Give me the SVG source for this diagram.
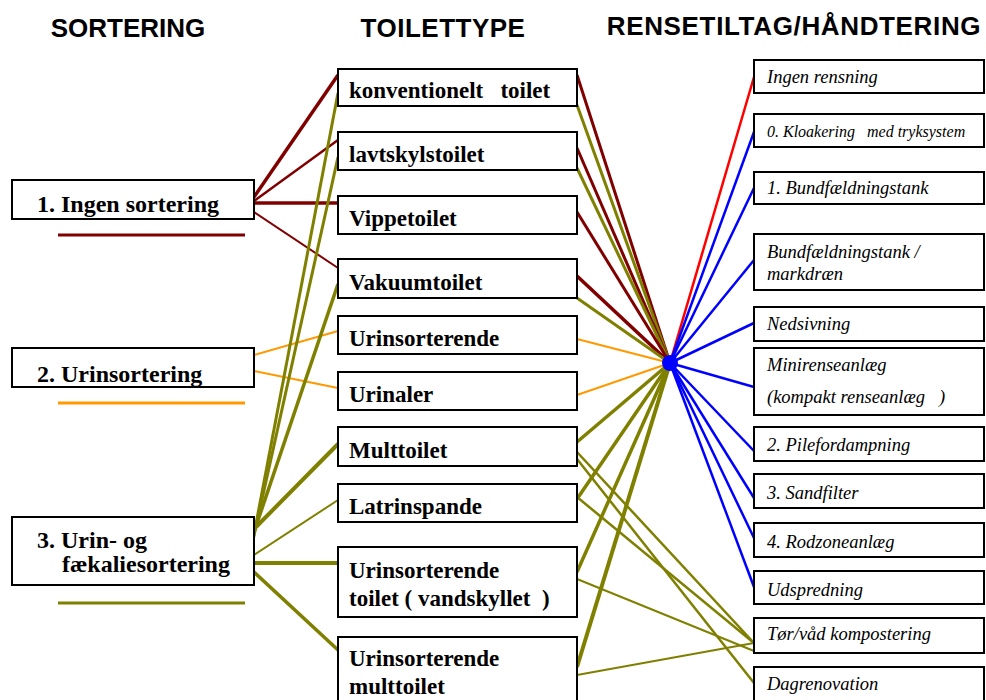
<svg xmlns="http://www.w3.org/2000/svg" width="986" height="700" viewBox="0 0 986 700">
<style>
.hdr{font-family:"Liberation Sans",Arial,sans-serif;font-weight:bold;font-size:26px;fill:#000}
.box{fill:#fff;stroke:#000;stroke-width:2}
.lt{font-family:"Liberation Serif","Times New Roman",serif;font-weight:bold;font-size:24px;fill:#000}
.mt{font-family:"Liberation Serif","Times New Roman",serif;font-weight:bold;font-size:23px;fill:#000;white-space:pre}
.rt{font-family:"Liberation Serif","Times New Roman",serif;font-style:italic;font-size:18.5px;fill:#000;white-space:pre}
.rs{font-size:16px}
.dr{stroke:#800000;fill:none}
.ol{stroke:#808000;fill:none}
.or{stroke:#FF9900;fill:none;stroke-width:2}
.bl{stroke:#0000FF;fill:none;stroke-width:2.5}
.rd{stroke:#FF0000;fill:none;stroke-width:2.5}
</style>
<rect width="986" height="700" fill="#fff"/>
<g id="headers">
<text class="hdr" x="128" y="37" text-anchor="middle">SORTERING</text>
<text class="hdr" x="443" y="37" text-anchor="middle" letter-spacing="0.5">TOILETTYPE</text>
<text class="hdr" x="794" y="35" text-anchor="middle" letter-spacing="0.65">RENSETILTAG/HÅNDTERING</text>
</g>
<g id="connectors">
<line class="dr" stroke-width="3.5" x1="254" y1="197" x2="338" y2="75"/>
<line class="dr" stroke-width="2.5" x1="254" y1="201" x2="338" y2="140"/>
<line class="dr" stroke-width="3.5" x1="254" y1="203" x2="338" y2="203"/>
<line class="dr" stroke-width="2" x1="254" y1="212" x2="338" y2="268"/>
<line class="or" x1="254" y1="355" x2="338" y2="331"/>
<line class="or" x1="254" y1="371" x2="338" y2="388"/>
<line class="ol" stroke-width="3" x1="252" y1="545" x2="338" y2="93"/>
<line class="ol" stroke-width="3" x1="253" y1="540" x2="338" y2="157"/>
<line class="ol" stroke-width="3.5" x1="254" y1="532" x2="338" y2="284"/>
<line class="ol" stroke-width="4" x1="256" y1="527" x2="338" y2="444"/>
<line class="ol" stroke-width="2" x1="254" y1="555" x2="338" y2="500"/>
<line class="ol" stroke-width="4" x1="254" y1="563" x2="338" y2="563"/>
<line class="ol" stroke-width="3.5" x1="254" y1="572" x2="338" y2="650"/>
<line class="dr" stroke-width="3" x1="577" y1="75" x2="670" y2="363"/>
<line class="ol" stroke-width="3" x1="577" y1="105" x2="670" y2="363"/>
<line class="dr" stroke-width="3" x1="577" y1="148" x2="670" y2="363"/>
<line class="ol" stroke-width="3" x1="577" y1="168" x2="670" y2="363"/>
<line class="dr" stroke-width="3" x1="577" y1="212" x2="670" y2="363"/>
<line class="dr" stroke-width="3.5" x1="577" y1="276" x2="670" y2="363"/>
<line class="ol" stroke-width="3" x1="577" y1="298" x2="670" y2="363"/>
<line class="or" x1="577" y1="339" x2="670" y2="363"/>
<line class="or" x1="577" y1="395" x2="670" y2="363"/>
<line class="ol" stroke-width="3.5" x1="577" y1="442" x2="670" y2="363"/>
<line class="ol" stroke-width="3.5" x1="577" y1="499" x2="670" y2="363"/>
<line class="ol" stroke-width="3.5" x1="577" y1="572" x2="670" y2="363"/>
<line class="ol" stroke-width="4" x1="577" y1="667" x2="670" y2="363"/>
<line class="ol" stroke-width="2.5" x1="577" y1="452" x2="754" y2="643"/>
<line class="ol" stroke-width="2.5" x1="577" y1="459" x2="754" y2="683"/>
<line class="ol" stroke-width="2.5" x1="577" y1="497" x2="754" y2="643"/>
<line class="ol" stroke-width="2" x1="577" y1="579" x2="754" y2="651"/>
<line class="ol" stroke-width="2" x1="577" y1="675" x2="754" y2="643"/>
<line class="rd" x1="670" y1="363" x2="754" y2="77"/>
<line class="bl" x1="670" y1="363" x2="754" y2="132"/>
<line class="bl" x1="670" y1="363" x2="754" y2="188"/>
<line class="bl" x1="670" y1="363" x2="754" y2="260"/>
<line class="bl" x1="670" y1="363" x2="754" y2="323"/>
<line class="bl" x1="670" y1="363" x2="754" y2="387"/>
<line class="bl" x1="670" y1="363" x2="754" y2="451"/>
<line class="bl" x1="670" y1="363" x2="754" y2="498"/>
<line class="bl" x1="670" y1="363" x2="754" y2="538"/>
<line class="bl" x1="670" y1="363" x2="754" y2="587"/>
</g>
<g id="hub"><circle cx="670" cy="363" r="8" fill="#0000FF"/></g>
<g id="s1"><rect class="box" x="12" y="180" width="242" height="39"/><text class="lt" x="37" y="212">1. Ingen sortering</text><line x1="58" y1="235" x2="245" y2="235" stroke="#800000" stroke-width="3"/></g>
<g id="s2"><rect class="box" x="12" y="348" width="242" height="39"/><text class="lt" x="37" y="382">2. Urinsortering</text><line x1="58" y1="403" x2="245" y2="403" stroke="#FF9900" stroke-width="3"/></g>
<g id="s3"><rect class="box" x="12" y="517" width="242" height="68"/><text class="lt" x="37" y="548">3. Urin- og</text><text class="lt" x="62" y="572">fækaliesortering</text><line x1="58" y1="603" x2="245" y2="603" stroke="#808000" stroke-width="3"/></g>
<g id="t1"><rect class="box" x="338" y="69" width="239" height="37"/><text class="mt" x="349" y="98">konventionelt   toilet</text></g>
<g id="t2"><rect class="box" x="338" y="132" width="239" height="38"/><text class="mt" x="349" y="162">lavtskylstoilet</text></g>
<g id="t3"><rect class="box" x="338" y="196" width="239" height="38"/><text class="mt" x="349" y="226">Vippetoilet</text></g>
<g id="t4"><rect class="box" x="338" y="259" width="239" height="39"/><text class="mt" x="349" y="290">Vakuumtoilet</text></g>
<g id="t5"><rect class="box" x="338" y="316" width="239" height="38"/><text class="mt" x="349" y="346">Urinsorterende</text></g>
<g id="t6"><rect class="box" x="338" y="372" width="239" height="38"/><text class="mt" x="349" y="402">Urinaler</text></g>
<g id="t7"><rect class="box" x="338" y="427" width="239" height="39"/><text class="mt" x="349" y="458">Multtoilet</text></g>
<g id="t8"><rect class="box" x="338" y="484" width="239" height="38"/><text class="mt" x="349" y="514">Latrinspande</text></g>
<g id="t9"><rect class="box" x="338" y="547" width="239" height="70"/><text class="mt" x="349" y="578">Urinsorterende</text><text class="mt" x="349" y="606">toilet ( vandskyllet  )</text></g>
<g id="t10"><rect class="box" x="338" y="637" width="239" height="70"/><text class="mt" x="349" y="666">Urinsorterende</text><text class="mt" x="349" y="694">multtoilet</text></g>
<g id="r1"><rect class="box" x="754" y="60" width="230" height="33"/><text class="rt" x="767" y="83">Ingen rensning</text></g>
<g id="r2"><rect class="box" x="754" y="114" width="230" height="33"/><text class="rt rs" x="767" y="137">0. Kloakering   med tryksystem</text></g>
<g id="r3"><rect class="box" x="754" y="172" width="230" height="32"/><text class="rt" x="767" y="194">1. Bundfældningstank</text></g>
<g id="r4"><rect class="box" x="754" y="234" width="230" height="56"/><text class="rt" x="767" y="258">Bundfældningstank /</text><text class="rt" x="767" y="280">markdræn</text></g>
<g id="r5"><rect class="box" x="754" y="307" width="230" height="34"/><text class="rt" x="767" y="330">Nedsivning</text></g>
<g id="r6"><rect class="box" x="754" y="348" width="230" height="67"/><text class="rt" x="767" y="371">Minirenseanlæg</text><text class="rt" x="767" y="403">(kompakt renseanlæg   )</text></g>
<g id="r7"><rect class="box" x="754" y="427" width="230" height="34"/><text class="rt" x="767" y="451">2. Pilefordampning</text></g>
<g id="r8"><rect class="box" x="754" y="474" width="230" height="34"/><text class="rt" x="767" y="499">3. Sandfilter</text></g>
<g id="r9"><rect class="box" x="754" y="523" width="230" height="34"/><text class="rt" x="767" y="548">4. Rodzoneanlæg</text></g>
<g id="r10"><rect class="box" x="754" y="571" width="230" height="33"/><text class="rt" x="767" y="596">Udspredning</text></g>
<g id="r11"><rect class="box" x="754" y="618" width="230" height="35"/><text class="rt" x="767" y="640">Tør/våd kompostering</text></g>
<g id="r12"><rect class="box" x="754" y="667" width="230" height="40"/><text class="rt" x="767" y="690">Dagrenovation</text></g>
</svg>
